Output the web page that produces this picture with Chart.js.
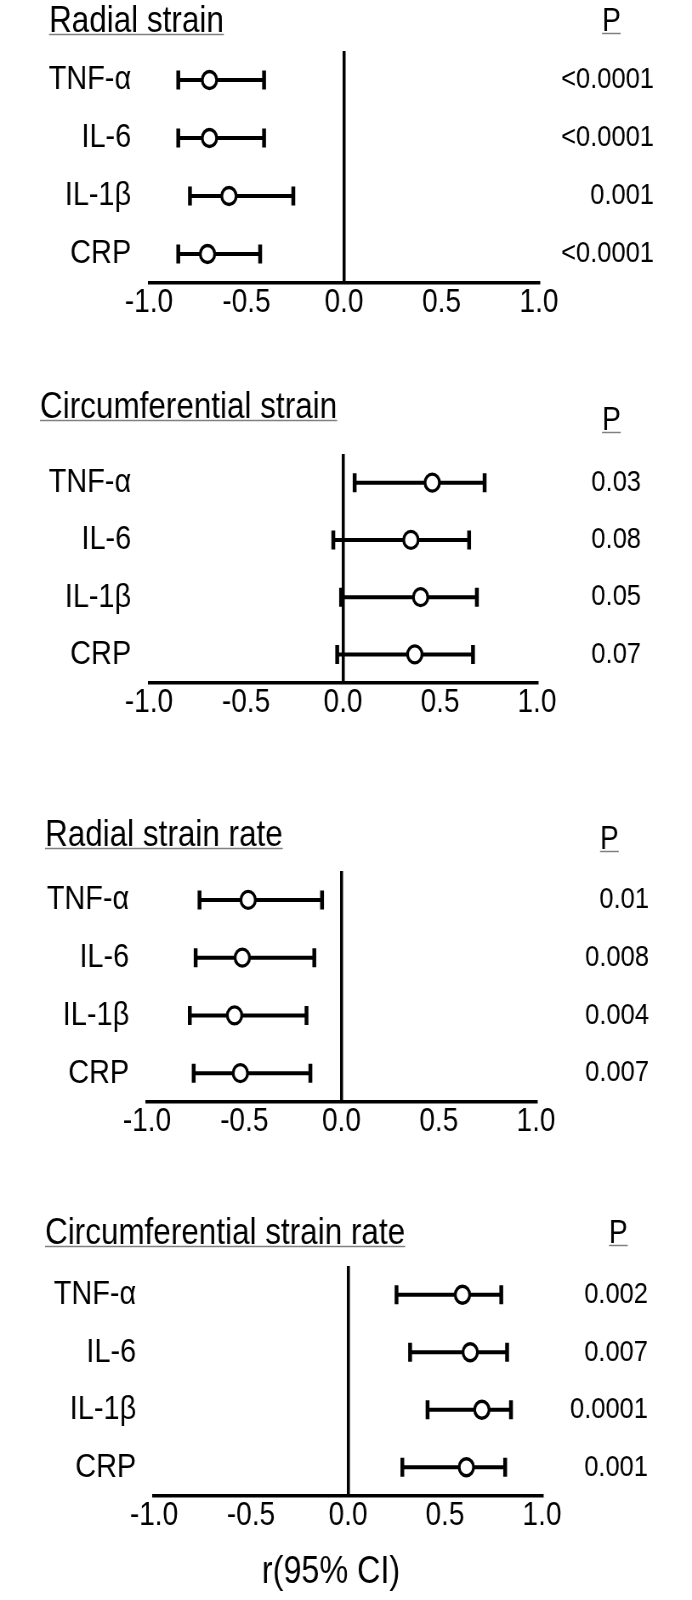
<!DOCTYPE html>
<html>
<head>
<meta charset="utf-8">
<script src="https://cdn.jsdelivr.net/npm/chart.js@4.4.0/dist/chart.umd.min.js"></script>
<style>
  html, body { margin: 0; padding: 0; background: #fff; }
  body { width: 692px; height: 1600px; position: relative; overflow: hidden; }
  canvas { position: absolute; left: 0; }
</style>
</head>
<body>
<canvas id="panel-0"></canvas>
<canvas id="panel-1"></canvas>
<canvas id="panel-2"></canvas>
<canvas id="panel-3"></canvas>
<script>
// Rows shared by every panel
const markers = ['TNF-α', 'IL-6', 'IL-1β', 'CRP'];
const xTickValues = [-1.0, -0.5, 0.0, 0.5, 1.0];
const pHeader = 'P';
const axisTitle = 'r(95% CI)';

// Radial strain
const radialStrainR = [-0.69, -0.69, -0.59, -0.70];
const radialStrainLow = [-0.85, -0.85, -0.79, -0.85];
const radialStrainHigh = [-0.41, -0.41, -0.26, -0.43];
const radialStrainP = ['<0.0001', '<0.0001', '0.001', '<0.0001'];

// Circumferential strain
const circStrainR = [0.46, 0.35, 0.40, 0.37];
const circStrainLow = [0.06, -0.05, -0.01, -0.03];
const circStrainHigh = [0.73, 0.65, 0.69, 0.67];
const circStrainP = ['0.03', '0.08', '0.05', '0.07'];

// Radial strain rate
const radialRateR = [-0.48, -0.51, -0.55, -0.52];
const radialRateLow = [-0.73, -0.75, -0.78, -0.76];
const radialRateHigh = [-0.10, -0.14, -0.18, -0.16];
const radialRateP = ['0.01', '0.008', '0.004', '0.007'];

// Circumferential strain rate
const circRateR = [0.59, 0.63, 0.69, 0.61];
const circRateLow = [0.25, 0.32, 0.41, 0.28];
const circRateHigh = [0.79, 0.82, 0.84, 0.81];
const circRateP = ['0.002', '0.007', '0.0001', '0.001'];

const FONT = '"Liberation Sans", Arial, sans-serif';
Chart.defaults.font.family = FONT;
Chart.defaults.color = '#000';

// The original figure is squeezed horizontally: draw wider, show at 692px
const PAGE_W = 692;
const CANVAS_W = 814;
const SX = PAGE_W / CANVAS_W;
const cx = (px) => px / SX;

// Panel layout (page pixel positions of each plot area)
const panels = [
    { title: 'Radial strain', r: radialStrainR, lo: radialStrainLow, hi: radialStrainHigh, p: radialStrainP,
      plotTop: 51, plotBottom: 283, left: 149, right: 539, pRight: 654,
      titleX: 49, titleY: 32, headX: 602, headY: 31 },
    { title: 'Circumferential strain', r: circStrainR, lo: circStrainLow, hi: circStrainHigh, p: circStrainP,
      plotTop: 454, plotBottom: 683, left: 149, right: 537, pRight: 641,
      titleX: 40, titleY: 418, headX: 602, headY: 430 },
    { title: 'Radial strain rate', r: radialRateR, lo: radialRateLow, hi: radialRateHigh, p: radialRateP,
      plotTop: 871, plotBottom: 1102, left: 147, right: 536, pRight: 649,
      titleX: 45, titleY: 846, headX: 600, headY: 849 },
    { title: 'Circumferential strain rate', r: circRateR, lo: circRateLow, hi: circRateHigh, p: circRateP,
      plotTop: 1266, plotBottom: 1496, left: 154, right: 542, pRight: 648,
      titleX: 45, titleY: 1244, headX: 609, headY: 1243, footX: 331, footY: 1583 }
];

const TOP_PAD = 80;

/**
 * Draws the underlined panel title, the "P" column header
 * and (last panel only) the r(95% CI) caption
 */
const panelHeader = {
    id: 'panelHeader',
    afterDraw(chart, args, opts) {
        const ctx = chart.ctx;
        const drawUnderlined = (text, x, y) => {
            ctx.fillStyle = '#000';
            ctx.fillText(text, x, y);
            const w = ctx.measureText(text).width;
            ctx.strokeStyle = '#808080';
            ctx.lineWidth = 1.5;
            ctx.beginPath();
            ctx.moveTo(x, y + 2.5);
            ctx.lineTo(x + w, y + 2.5);
            ctx.stroke();
        };
        ctx.save();
        ctx.font = '37px ' + FONT;
        ctx.textBaseline = 'alphabetic';
        ctx.textAlign = 'left';
        drawUnderlined(opts.title, opts.titleX, opts.titleY);
        ctx.font = '33px ' + FONT;
        drawUnderlined(pHeader, opts.headX, opts.headY);
        if (opts.footer) {
            ctx.font = '38px ' + FONT;
            ctx.textAlign = 'center';
            ctx.fillStyle = '#000';
            ctx.fillText(opts.footer, opts.footX, opts.footY);
        }
        ctx.restore();
    }
};

panels.forEach((cfg, idx) => {
    const canvas = document.getElementById('panel-' + idx);
    const canvasTop = cfg.plotTop - TOP_PAD;
    const hasFooter = cfg.footY !== undefined;
    const axisHeight = 44;
    const height = TOP_PAD + (cfg.plotBottom - cfg.plotTop) + axisHeight + (hasFooter ? 60 : 0);
    canvas.width = CANVAS_W;
    canvas.height = height;
    canvas.style.top = canvasTop + 'px';
    canvas.style.width = PAGE_W + 'px';
    canvas.style.height = height + 'px';

    // Error bars: one line per row with vertical caps
    const bars = markers.map((m, i) => ({
        type: 'line',
        data: [{ x: cfg.lo[i], y: m }, { x: cfg.hi[i], y: m }],
        borderColor: '#000',
        borderWidth: 4,
        fill: false,
        pointStyle: 'line',
        pointRotation: 90,
        pointRadius: 9.5,
        pointBorderWidth: 4.5,
        pointBorderColor: '#000',
        pointHoverRadius: 9.5,
        order: 1
    }));

    // Point estimates
    const points = {
        type: 'scatter',
        data: markers.map((m, i) => ({ x: cfg.r[i], y: m })),
        pointStyle: 'circle',
        pointRadius: 8.5,
        pointHoverRadius: 8.5,
        pointBorderWidth: 3.3,
        pointBorderColor: '#000',
        pointBackgroundColor: '#fff',
        order: 0
    };

    new Chart(canvas, {
        type: 'scatter',
        data: { datasets: [points].concat(bars) },
        plugins: [panelHeader],
        options: {
            responsive: false,
            animation: false,
            devicePixelRatio: 1,
            layout: {
                padding: {
                    top: TOP_PAD,
                    left: 0,
                    right: cx(PAGE_W - cfg.pRight),
                    bottom: hasFooter ? 60 : 0
                }
            },
            plugins: {
                legend: { display: false },
                tooltip: { enabled: false },
                panelHeader: {
                    title: cfg.title,
                    titleX: cx(cfg.titleX),
                    titleY: cfg.titleY - canvasTop,
                    headX: cx(cfg.headX),
                    headY: cfg.headY - canvasTop,
                    footer: hasFooter ? axisTitle : null,
                    footX: hasFooter ? cx(cfg.footX) : 0,
                    footY: hasFooter ? cfg.footY - canvasTop : 0
                }
            },
            scales: {
                x: {
                    type: 'linear',
                    min: -1,
                    max: 1,
                    afterBuildTicks: (scale) => {
                        scale.ticks = xTickValues.map(v => ({ value: v }));
                    },
                    afterFit: (scale) => { scale.height = axisHeight; },
                    ticks: {
                        callback: (v) => Number(v).toFixed(1),
                        font: { size: 33 },
                        color: '#000',
                        padding: 0,
                        maxRotation: 0,
                        autoSkip: false
                    },
                    grid: {
                        drawTicks: false,
                        lineWidth: 3.5,
                        color: (c) => (c.tick && c.tick.value === 0 ? '#000' : 'rgba(0,0,0,0)')
                    },
                    border: { display: true, color: '#000', width: 3.5 }
                },
                y: {
                    type: 'category',
                    labels: markers,
                    offset: true,
                    position: 'left',
                    grid: { display: false },
                    border: { display: false },
                    afterFit: (scale) => { scale.width = cx(cfg.left); },
                    ticks: { font: { size: 34 }, color: '#000', padding: cx(11), autoSkip: false }
                },
                p: {
                    type: 'category',
                    labels: cfg.p,
                    offset: true,
                    position: 'right',
                    grid: { display: false },
                    border: { display: false },
                    afterFit: (scale) => { scale.width = cx(cfg.pRight - cfg.right); },
                    ticks: { font: { size: 30 }, color: '#000', crossAlign: 'far', autoSkip: false }
                }
            }
        }
    });
});
</script>
</body>
</html>
